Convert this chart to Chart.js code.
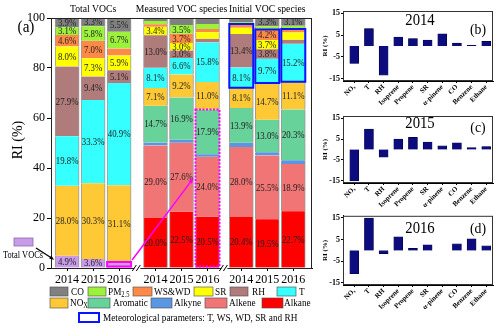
<!DOCTYPE html>
<html>
<head>
<meta charset="utf-8">
<script src="https://cdn.jsdelivr.net/npm/chart.js@4.4.1/dist/chart.umd.min.js"></script>
<style>
body{margin:0;background:#fff;width:500px;height:329px;overflow:hidden;position:relative}
canvas{position:absolute}
</style>
</head>
<body>
<canvas id="main" style="left:0;top:0" width="322" height="329"></canvas>
<canvas id="p2014" style="left:320px;top:0" width="180" height="105"></canvas>
<canvas id="p2015" style="left:320px;top:105px" width="180" height="105"></canvas>
<canvas id="p2016" style="left:320px;top:210px" width="180" height="119"></canvas>
<script>
// ---- panel (a) data: relative importance (%) stacked per bar ----
var barPos = [0, 1, 2, 3.4, 4.4, 5.4, 6.7, 7.7, 8.7];
var yearLabels = ['2014', '2015', '2016', '2014', '2015', '2016', '2014', '2015', '2016'];
var groupTitles = ['Total VOCs', 'Measured VOC species', 'Initial VOC species'];

var totalVOCs = [4.9, 3.6, 2.0, null, null, null, null, null, null];
var alkane    = [null, null, null, 20.0, 22.5, 20.5, 20.4, 19.5, 22.7];
var alkene    = [null, null, null, 29.0, 27.6, 24.0, 28.0, 25.5, 18.9];
var alkyne    = [null, null, null, 1.2, 1.2, 1.0, 1.7, 1.3, 1.5];
var aromatic  = [null, null, null, 14.7, 16.9, 17.9, 13.9, 13.0, 20.3];
var nox       = [28.0, 30.3, 31.1, 7.1, 9.2, 11.0, 8.1, 14.7, 11.1];
var temp      = [19.8, 33.3, 40.9, 8.1, 6.6, 15.8, 8.1, 9.7, 15.2];
var rh        = [27.9, 9.4, 5.1, 13.0, 3.0, 1.5, 13.4, 3.8, 1.6];
var sr        = [8.0, 7.3, 5.9, 3.4, 3.0, 2.6, 2.5, 3.7, 2.9];
var wswd      = [4.6, 7.0, 2.8, 1.0, 3.7, 1.3, 1.5, 4.2, 1.4];
var pm25      = [3.1, 5.8, 6.7, 1.3, 3.5, 2.0, 0.8, 1.3, 1.3];
var co        = [3.9, 3.3, 5.5, 1.2, 2.8, 2.4, 1.6, 3.3, 3.1];

// ---- panels (b)-(d) data: RI (%) ----
var riLabels = ['NOₓ', 'T', 'RH', 'Isoprene', 'Propene', 'SR', 'α-pinene', 'CO', 'Benzene', 'Ethane'];
var riPos = [0, 1, 2, 3, 4, 5, 6, 7, 8, 9];
var riTicks = [-15, -10, -5, 0, 5, 10, 15];
var ri2014 = [-8.0, 8.0, -13.3, 4.1, 3.4, 2.7, 5.6, 1.3, 0.3, 2.1];
var ri2015 = [-15.0, 9.8, -3.7, 5.0, 5.8, 3.6, 1.7, 3.2, 0.9, 1.4];
var ri2016 = [-10.8, 15.0, -1.5, 6.3, 0.9, 2.6, 0.0, 3.0, 5.4, 2.1];

var FONT = '"Liberation Serif", "Times New Roman", serif';
var colors = {
  tvoc: '#c99be9', alkane: '#ff0000', alkene: '#f27575', alkyne: '#5a96e2', aromatic: '#68d29b',
  nox: '#ffc935', t: '#35ffff', rh: '#b07b7b', sr: '#ffff00', ws: '#ff8a48', pm: '#9cf23a', co: '#808080'
};

function drawText(ctx, s, x, y, size, align, opts) {
  opts = opts || {};
  ctx.save();
  ctx.translate(x, y);
  if (opts.rot) ctx.rotate(opts.rot);
  ctx.scale(opts.sx || 0.88, 1);
  ctx.font = (opts.bold ? 'bold ' : '') + size + 'px ' + FONT;
  ctx.fillStyle = opts.color || '#000';
  ctx.textAlign = align || 'center';
  ctx.textBaseline = 'middle';
  ctx.fillText(s, 0, 0);
  var w = ctx.measureText(s).width * (opts.sx || 0.88);
  ctx.restore();
  return w;
}

function drawSub(ctx, main, sub, x, y, size) {
  var w = drawText(ctx, main, x, y, size, 'left');
  drawText(ctx, sub, x + w, y + 3, size * 0.7, 'left');
}

function arrow(ctx, x0, y0, x1, y1, color, lw, head) {
  var ang = Math.atan2(y1 - y0, x1 - x0);
  ctx.save();
  ctx.strokeStyle = color; ctx.fillStyle = color; ctx.lineWidth = lw;
  ctx.beginPath();
  ctx.moveTo(x0, y0);
  ctx.lineTo(x1 - Math.cos(ang) * head * 0.8, y1 - Math.sin(ang) * head * 0.8);
  ctx.stroke();
  ctx.beginPath();
  ctx.moveTo(x1, y1);
  ctx.lineTo(x1 - head * Math.cos(ang - 0.4), y1 - head * Math.sin(ang - 0.4));
  ctx.lineTo(x1 - head * Math.cos(ang + 0.4), y1 - head * Math.sin(ang + 0.4));
  ctx.closePath();
  ctx.fill();
  ctx.restore();
}

function series(label, vals, color) {
  return {
    label: label,
    data: barPos.map(function(p, i) { return {x: p, y: vals[i]}; }),
    backgroundColor: color,
    borderColor: 'rgba(120,120,120,0.75)',
    borderWidth: {left: 1, right: 1, top: 0, bottom: 0},
    borderSkipped: false,
    barThickness: 24
  };
}

var mainSets = [
  series('Total VOCs', totalVOCs, colors.tvoc),
  series('Alkane', alkane, colors.alkane),
  series('Alkene', alkene, colors.alkene),
  series('Alkyne', alkyne, colors.alkyne),
  series('Aromatic', aromatic, colors.aromatic),
  series('NOx', nox, colors.nox),
  series('T', temp, colors.t),
  series('RH', rh, colors.rh),
  series('SR', sr, colors.sr),
  series('WS&WD', wswd, colors.ws),
  series('PM2.5', pm25, colors.pm),
  series('CO', co, colors.co)
];

var mainDecor = {
  id: 'mainDecor',
  afterDatasetsDraw: function(chart) {
    var ctx = chart.ctx, xs = chart.scales.x, ys = chart.scales.y, a = chart.chartArea;

    // percentage labels
    chart.data.datasets.forEach(function(ds, d) {
      var meta = chart.getDatasetMeta(d);
      meta.data.forEach(function(el, i) {
        var v = ds.data[i].y;
        if (v === null || v < 3) return;
        drawText(ctx, v.toFixed(1) + '%', el.x, (el.y + el.base) / 2 + 0.5, 10, 'center', {color: '#222'});
      });
    });

    // meteorological boxes on the initial bars (T .. WS&WD)
    var tMeta = chart.getDatasetMeta(6), wsMeta = chart.getDatasetMeta(9);
    ctx.save();
    ctx.strokeStyle = '#0a14ff';
    ctx.lineWidth = 2;
    [6, 7, 8].forEach(function(i) {
      var b = tMeta.data[i], t = wsMeta.data[i];
      ctx.strokeRect(b.x - 12, t.y, 24, b.base - t.y);
    });
    ctx.restore();

    // magenta boxes + arrow
    var aroMeta = chart.getDatasetMeta(4), alkMeta = chart.getDatasetMeta(1), tvMeta = chart.getDatasetMeta(0);
    var top = aroMeta.data[5], bot = alkMeta.data[5], tv = tvMeta.data[2];
    ctx.save();
    ctx.strokeStyle = '#ff00ff';
    ctx.lineWidth = 2;
    ctx.setLineDash([2, 1.5]);
    ctx.strokeRect(top.x - 12, top.y, 24, bot.base - top.y - 1);
    ctx.setLineDash([]);
    ctx.strokeRect(tv.x - 12, tv.y - 1, 24, tv.base - tv.y);
    ctx.restore();
    arrow(ctx, tv.x + 13, tv.y - 3, top.x - 14, ys.getPixelForValue(36), '#ff00ff', 1.5, 6);

    // frame
    ctx.save();
    ctx.strokeStyle = '#222';
    ctx.lineWidth = 1;
    ctx.strokeRect(a.left + 0.5, a.top + 0.5, a.right - a.left - 1, a.bottom - a.top);
    ctx.restore();

    // axis breaks
    [(barPos[2] + barPos[3]) / 2, (barPos[5] + barPos[6]) / 2].forEach(function(v) {
      var px = xs.getPixelForValue(v), py = a.bottom;
      ctx.save();
      ctx.fillStyle = '#fff';
      ctx.fillRect(px - 3, py - 1, 6, 3);
      ctx.strokeStyle = '#000';
      ctx.lineWidth = 1;
      ctx.beginPath();
      ctx.moveTo(px - 5, py + 3); ctx.lineTo(px - 1, py - 3);
      ctx.moveTo(px - 1, py + 3); ctx.lineTo(px + 3, py - 3);
      ctx.stroke();
      ctx.restore();
    });
  },
  afterDraw: function(chart) {
    var ctx = chart.ctx, xs = chart.scales.x;

    // group titles
    [[0, 2], [3, 5], [6, 8]].forEach(function(g, k) {
      var cx = (xs.getPixelForValue(barPos[g[0]]) + xs.getPixelForValue(barPos[g[1]])) / 2;
      drawText(ctx, groupTitles[k], cx, 9, 11);
    });
    drawText(ctx, '(a)', 26, 28, 16, 'center', {sx: 0.95});
    drawText(ctx, 'RI (%)', 18, 140, 14, 'center', {rot: -Math.PI / 2, sx: 1});

    // "Total VOCs" marker with arrow
    ctx.save();
    ctx.fillStyle = colors.tvoc;
    ctx.fillRect(14, 238, 19, 8);
    ctx.strokeStyle = '#8a6aa8';
    ctx.lineWidth = 0.8;
    ctx.strokeRect(14, 238, 19, 8);
    ctx.restore();
    drawText(ctx, 'Total VOCs', 23, 255, 9.5);
    var tv0 = chart.getDatasetMeta(0).data[0];
    arrow(ctx, 36, 248, tv0.x - 13, (tv0.y + tv0.base) / 2 - 2, '#000', 1.3, 5);

    // legend
    function box(x, y, w, h, color) {
      ctx.save();
      ctx.fillStyle = color;
      ctx.fillRect(x, y, w, h);
      ctx.strokeStyle = 'rgba(80,80,80,0.8)';
      ctx.lineWidth = 0.8;
      ctx.strokeRect(x, y, w, h);
      ctx.restore();
    }
    var r1 = 287, r2 = 298;
    box(50, r1, 18, 9, colors.co);  drawText(ctx, 'CO', 71, r1 + 5, 10.5, 'left');
    box(88, r1, 18, 9, colors.pm);  drawSub(ctx, 'PM', '2.5', 108, r1 + 5, 10.5);
    box(133, r1, 19, 9, colors.ws); drawText(ctx, 'WS&WD', 154, r1 + 5, 10.5, 'left');
    box(194, r1, 19, 9, colors.sr); drawText(ctx, 'SR', 215, r1 + 5, 10.5, 'left');
    box(230, r1, 18, 9, colors.rh); drawText(ctx, 'RH', 252, r1 + 5, 10.5, 'left');
    box(277, r1, 19, 9, colors.t);  drawText(ctx, 'T', 299, r1 + 5, 10.5, 'left');

    box(50, r2, 18, 10, colors.nox);       drawSub(ctx, 'NO', 'X', 70, r2 + 5, 10.5);
    box(88, r2, 22, 10, colors.aromatic);  drawText(ctx, 'Aromatic', 113, r2 + 5, 10.5, 'left');
    box(151, r2, 21, 10, colors.alkyne);   drawText(ctx, 'Alkyne', 174, r2 + 5, 10.5, 'left');
    box(205, r2, 22, 10, colors.alkene);   drawText(ctx, 'Alkene', 229, r2 + 5, 10.5, 'left');
    box(262, r2, 21, 10, colors.alkane);   drawText(ctx, 'Alkane', 284, r2 + 5, 10.5, 'left');

    ctx.save();
    ctx.strokeStyle = '#0a14ff';
    ctx.lineWidth = 2;
    ctx.strokeRect(79, 313, 20, 9);
    ctx.restore();
    drawText(ctx, 'Meteorological parameters: T, WS, WD, SR and RH', 103, 318, 10.5, 'left');
  }
};

new Chart(document.getElementById('main'), {
  type: 'bar',
  data: {datasets: mainSets},
  options: {
    responsive: false,
    animation: false,
    devicePixelRatio: 1,
    layout: {padding: {top: 18, right: 10, left: 0, bottom: 0}},
    plugins: {legend: {display: false}, tooltip: {enabled: false}},
    scales: {
      x: {
        type: 'linear', stacked: true, offset: false,
        min: -0.62, max: 9.42,
        afterBuildTicks: function(s) { s.ticks = barPos.map(function(v) { return {value: v}; }); },
        afterFit: function(s) { s.height = 61; },
        ticks: {
          autoSkip: false, maxRotation: 0, padding: 2, color: '#000',
          font: {family: FONT, size: 12},
          callback: function(v, i) { return yearLabels[i]; }
        },
        grid: {drawOnChartArea: false, offset: false, tickLength: 3, color: '#000'},
        border: {color: '#000'}
      },
      y: {
        stacked: true, min: 0, max: 100,
        afterFit: function(s) { s.width = 51; },
        ticks: {stepSize: 20, padding: 2, color: '#000', font: {family: FONT, size: 12}},
        grid: {drawOnChartArea: false, tickLength: 4, color: '#000'},
        border: {color: '#000'}
      }
    }
  },
  plugins: [mainDecor]
});

var panelDecor = {
  id: 'panelDecor',
  afterDraw: function(chart, args, opts) {
    var ctx = chart.ctx, a = chart.chartArea;
    ctx.save();
    ctx.strokeStyle = '#333';
    ctx.lineWidth = 1;
    ctx.strokeRect(a.left + 0.5, a.top + 0.5, a.right - a.left - 1, a.bottom - a.top - 1);
    ctx.restore();
    drawText(ctx, opts.year, 100, a.top + opts.yearDy, 16, 'center', {sx: 0.92});
    drawText(ctx, opts.tag, 158, a.top + opts.tagDy, 15, 'center', {sx: 0.92});
    drawText(ctx, 'RI (%)', 5, (a.top + a.bottom) / 2, 7, 'center', {rot: -Math.PI / 2, bold: true, sx: 1});
  }
};

function makePanel(id, vals, year, tag, padTop, xH, yearDy, tagDy) {
  return new Chart(document.getElementById(id), {
    type: 'bar',
    data: {
      datasets: [{
        data: riPos.map(function(p, i) { return {x: p, y: vals[i]}; }),
        backgroundColor: '#0c0c7e',
        borderColor: '#00003a',
        borderWidth: 0.6,
        barThickness: 9
      }]
    },
    options: {
      responsive: false,
      animation: false,
      devicePixelRatio: 1,
      layout: {padding: {top: padTop, right: 7, left: 0, bottom: 0}},
      plugins: {
        legend: {display: false}, tooltip: {enabled: false},
        panelDecor: {year: year, tag: tag, yearDy: yearDy, tagDy: tagDy}
      },
      scales: {
        x: {
          type: 'linear', offset: false, min: -0.77, max: 9.46,
          afterBuildTicks: function(s) { s.ticks = riPos.map(function(v) { return {value: v}; }); },
          afterFit: function(s) { s.height = xH; },
          ticks: {
            autoSkip: false, minRotation: 45, maxRotation: 45, padding: 0, color: '#000',
            font: {family: FONT, size: 7, weight: 'bold'},
            callback: function(v, i) { return riLabels[i]; }
          },
          grid: {drawOnChartArea: false, offset: false, tickLength: 2, color: '#000'},
          border: {color: '#000'}
        },
        y: {
          min: -16, max: 16,
          afterBuildTicks: function(s) { s.ticks = riTicks.map(function(v) { return {value: v}; }); },
          afterFit: function(s) { s.width = 23; },
          ticks: {padding: 1, color: '#000', font: {family: FONT, size: 8, weight: 'bold'}},
          grid: {
            color: function(c) { return c.tick && c.tick.value === 0 ? '#000' : 'rgba(0,0,0,0)'; },
            lineWidth: function(c) { return c.tick && c.tick.value === 0 ? 1.5 : 1; },
            tickColor: '#000', tickLength: 2
          },
          border: {color: '#000'}
        }
      }
    },
    plugins: [panelDecor]
  });
}

makePanel('p2014', ri2014, '2014', '(b)', 11, 24, 10, 19);
makePanel('p2015', ri2015, '2015', '(c)', 11, 27, 8, 12);
makePanel('p2016', ri2016, '2016', '(d)', 5, 44, 13, 13);
</script>
</body>
</html>
